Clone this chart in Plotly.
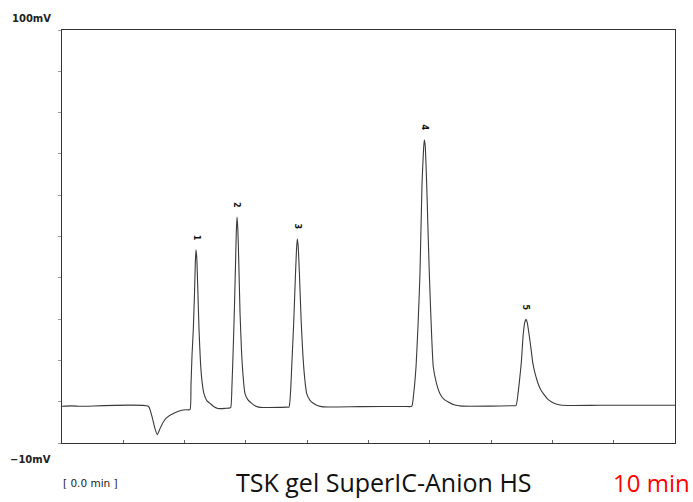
import plotly.graph_objects as go

time_min = [0, 0.158, 0.30, 1.408, 1.463, 1.517, 1.555, 1.599, 1.653, 1.708,
            1.816, 1.953, 2.023, 2.088, 2.104, 2.121, 2.142, 2.162, 2.175, 2.186,
            2.199, 2.215, 2.235, 2.259, 2.284, 2.316, 2.365, 2.414, 2.480, 2.545,
            2.675, 2.724, 2.752, 2.773, 2.795, 2.811, 2.830, 2.843, 2.855, 2.868,
            2.884, 2.904, 2.928, 2.953, 2.985, 3.034, 3.095, 3.165, 3.230, 3.556,
            3.654, 3.703, 3.728, 3.752, 3.780, 3.806, 3.825, 3.838, 3.853, 3.874,
            3.903, 3.931, 3.961, 3.992, 4.046, 4.100, 4.176, 4.258, 4.861, 5.595,
            5.705, 5.737, 5.775, 5.808, 5.840, 5.873, 5.897, 5.910, 5.925, 5.949,
            5.971, 5.992, 6.020, 6.057, 6.109, 6.166, 6.232, 6.302, 6.395, 6.525,
            6.982, 7.341, 7.406, 7.439, 7.467, 7.493, 7.525, 7.550, 7.569, 7.589,
            7.618, 7.648, 7.679, 7.716, 7.765, 7.806, 7.852, 7.928, 7.989, 8.059,
            8.157, 8.777, 10.0]
signal_mv = [-0.23, -0.12, -0.23, -0.23, -2.63, -6.17, -7.76, -6.17, -4.41, -3.24,
             -2.17, -1.29, -1.14, -1.11, 5.36, 13.35, 20.27, 30.12, 38.11, 41.49,
             39.17, 31.18, 20.27, 11.48, 6.43, 3.15, 1.23, 0.57, -0.36, -0.82,
             -0.76, -0.71, -0.58, 5.36, 16.01, 24.79, 37.31, 46.09, 50.17, 47.16,
             38.11, 24.79, 14.68, 8.02, 3.15, 1.50, 0.57, -0.23, -0.50, -0.50,
             -0.45, -0.42, 3.50, 12.02, 22.0, 33.85, 41.30, 44.42, 42.37, 34.65,
             22.0, 13.08, 6.96, 3.15, 1.37, 0.57, -0.10, -0.37, -0.31, -0.26,
             -0.23, 3.15, 10.23, 21.33, 35.26, 59.06, 67.92, 70.77, 69.25, 59.06,
             46.62, 35.26, 22.66, 10.23, 5.90, 3.15, 1.63, 0.92, 0.17, -0.18,
             -0.18, -0.07, -0.04, 3.15, 7.22, 11.48, 19.12, 22.13, 22.93, 22.13,
             19.12, 15.48, 11.48, 8.60, 5.90, 4.30, 3.15, 1.63, 0.92, 0.36,
             0.04, 0.04, 0.04]

# Peak labels
peak_labels = ["1", "2", "3", "4", "5"]
peak_time = [2.186, 2.855, 3.838, 5.910, 7.569]
peak_mv = [41.49, 50.17, 44.42, 70.77, 22.93]

assert len(time_min) == len(signal_mv)

fig = go.Figure()
fig.add_trace(go.Scatter(
    x=time_min, y=signal_mv, mode="lines",
    line=dict(color="#3a3a3a", width=1.1, shape="spline", smoothing=0.5),
    hoverinfo="skip", showlegend=False,
))

annotations = []
for lab, t, v in zip(peak_labels, peak_time, peak_mv):
    annotations.append(dict(
        x=t, y=v, xref="x", yref="y", text="<b>" + lab + "</b>", showarrow=False,
        textangle=90, yshift=12, font=dict(size=8, color="#111", family="DejaVu Sans"),
    ))

annotations += [
    dict(x=-0.0494, y=1.027, xref="paper", yref="paper", text="<b>100mV</b>",
         showarrow=False, xanchor="center", yanchor="middle",
         font=dict(size=10, color="#222", family="DejaVu Sans")),
    dict(x=-0.0522, y=-0.0394, xref="paper", yref="paper", text="<b>\u221210mV</b>",
         showarrow=False, xanchor="center", yanchor="middle",
         font=dict(size=10, color="#222", family="DejaVu Sans")),
    dict(x=0.0473, y=-0.0963, xref="paper", yref="paper", text="[ 0.0 min ]",
         showarrow=False, xanchor="center", yanchor="middle",
         font=dict(size=10.5, color="#222", family="DejaVu Sans")),
    dict(x=0.526, y=-0.1413, xref="paper", yref="paper", text="TSK gel SuperIC-Anion HS",
         showarrow=False, xanchor="center", yanchor="bottom",
         font=dict(size=25, color="#111", family="Open Sans")),
    dict(x=0.962, y=-0.1413, xref="paper", yref="paper", text="10 min",
         showarrow=False, xanchor="center", yanchor="bottom",
         font=dict(size=24, color="red", family="Open Sans")),
]

fig.update_layout(
    width=693, height=502,
    margin=dict(l=62, r=18, t=29.5, b=59.3),
    paper_bgcolor="white", plot_bgcolor="white",
    annotations=annotations,
    xaxis=dict(range=[0, 10], dtick=1, tick0=0, showgrid=False, zeroline=False,
               showline=True, linecolor="#333", linewidth=1, mirror=True,
               ticks="inside", ticklen=3, tickcolor="#666", showticklabels=False),
    yaxis=dict(range=[-10, 100], dtick=11, tick0=-10, showgrid=False, zeroline=False,
               showline=True, linecolor="#333", linewidth=1, mirror=True,
               ticks="outside", ticklen=3, tickcolor="#999", showticklabels=False),
)

fig.write_html("out.html", config={"displayModeBar": False},
               post_script="document.body.style.margin='0';document.body.style.overflow='hidden';")
